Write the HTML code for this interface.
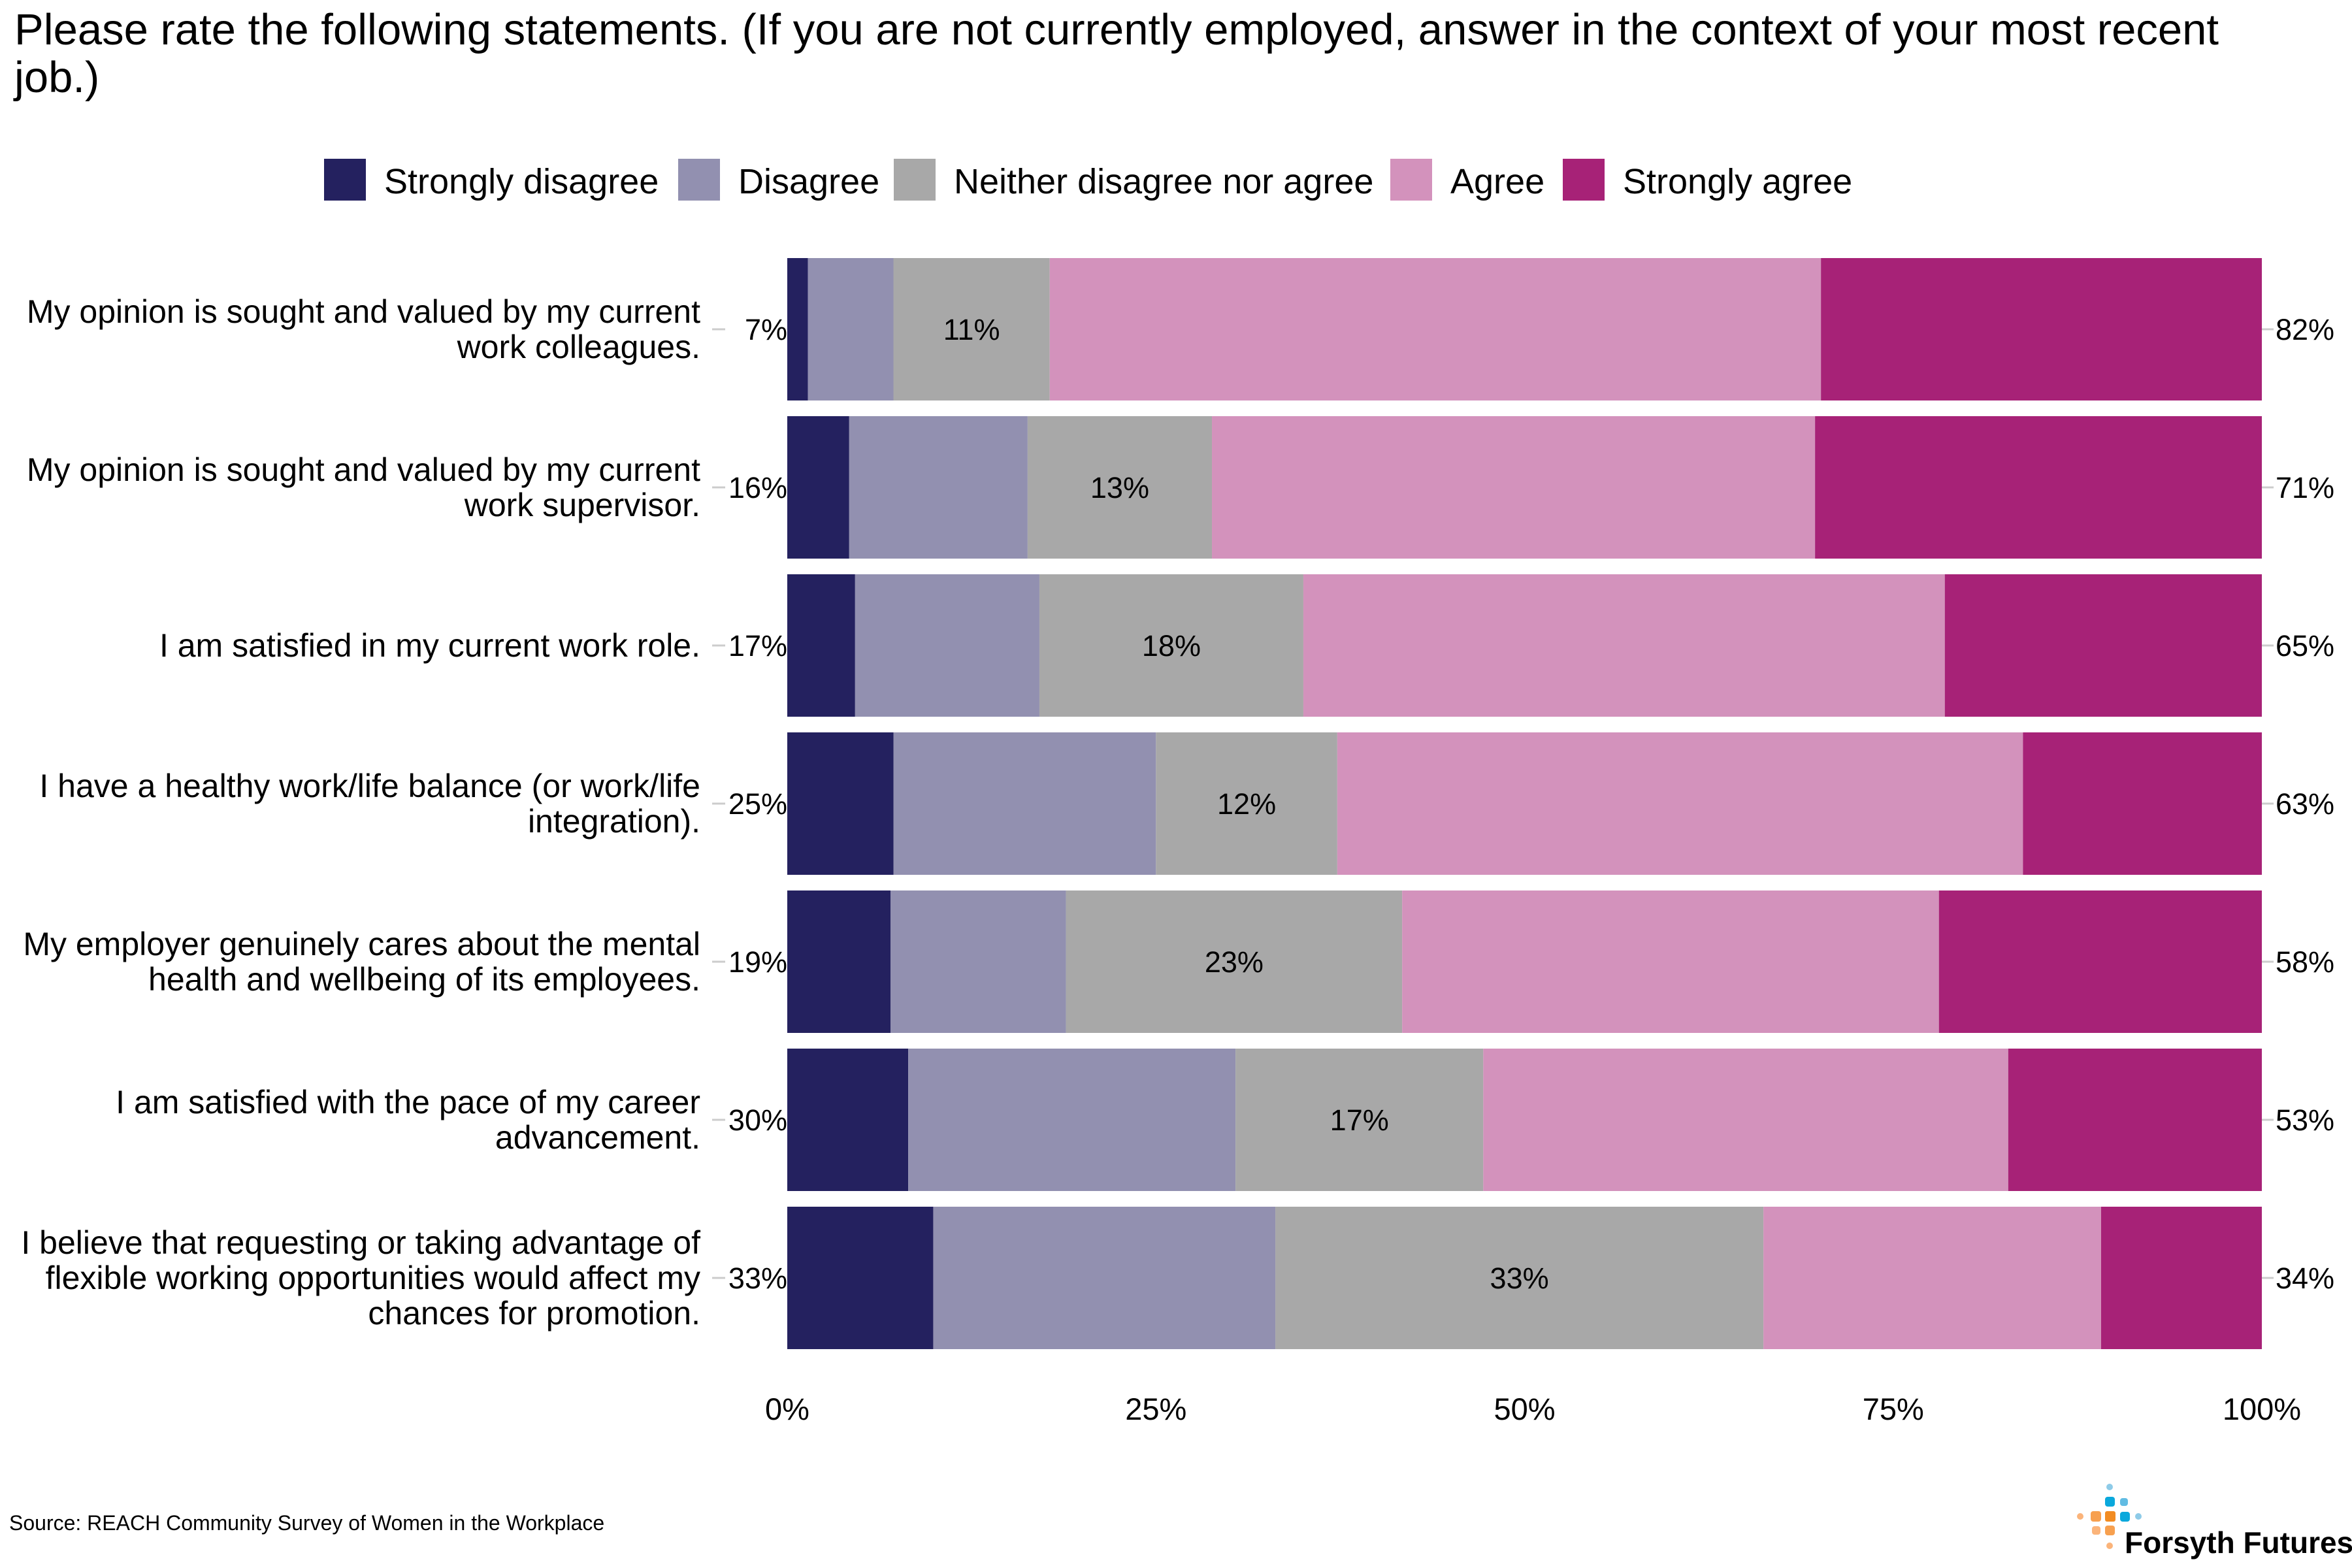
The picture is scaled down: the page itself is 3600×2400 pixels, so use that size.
<!DOCTYPE html>
<html><head><meta charset="utf-8"><style>
body{margin:0;background:#fff}
svg{display:block;font-family:"Liberation Sans",Arial,sans-serif}
</style></head><body>
<svg id="chart" width="3600" height="2400" viewBox="0 0 3600 2400">
<text x="22" y="68" font-size="67" fill="#000">Please rate the following statements. (If you are not currently employed, answer in the context of your most recent</text>
<text x="22" y="141" font-size="67" fill="#000">job.)</text>
<g id="legend"></g>
<g id="bars"></g>
<g id="axis"></g>
<text x="14" y="2342" font-size="32" fill="#000">Source: REACH Community Survey of Women in the Workplace</text>
<g>
<circle cx="3229" cy="2276" r="5" fill="#8ecbe8"/>
<rect x="3222" y="2291" width="15" height="15" rx="4" fill="#0aa8dc"/>
<rect x="3245" y="2293" width="12" height="12" rx="4" fill="#62bce3"/>
<circle cx="3184" cy="2321" r="5" fill="#fbb47a"/>
<rect x="3200" y="2313" width="16" height="16" rx="4" fill="#f7a04f"/>
<rect x="3222" y="2313" width="16" height="16" rx="3" fill="#f28c22"/>
<rect x="3245" y="2314" width="15" height="15" rx="4" fill="#0aa8dc"/>
<circle cx="3273" cy="2321" r="5" fill="#8ecbe8"/>
<rect x="3202" y="2336" width="13" height="13" rx="4" fill="#fbb47a"/>
<rect x="3222" y="2335" width="15" height="15" rx="4" fill="#f7a04f"/>
<circle cx="3229" cy="2366" r="5" fill="#fbb47a"/>
<text x="3252" y="2377" font-size="46" font-weight="bold" fill="#000">Forsyth Futures</text>
</g>
</svg>
<script>
const categories=["My opinion is sought and valued by my current|work colleagues.","My opinion is sought and valued by my current|work supervisor.","I am satisfied in my current work role.","I have a healthy work/life balance (or work/life|integration).","My employer genuinely cares about the mental|health and wellbeing of its employees.","I am satisfied with the pace of my career|advancement.","I believe that requesting or taking advantage of|flexible working opportunities would affect my|chances for promotion."];
const stronglyDisagree=[1.4,4.2,4.6,7.2,7.0,8.2,9.9];
const disagree=[5.8,12.1,12.5,17.8,11.9,22.2,23.2];
const neither=[10.6,12.5,17.9,12.3,22.8,16.8,33.1];
const agree=[52.3,40.9,43.5,46.5,36.4,35.6,22.9];
const stronglyAgree=[29.9,30.3,21.5,16.2,21.9,17.2,10.9];
const disagreeLabels=["7%","16%","17%","25%","19%","30%","33%"];
const neitherLabels=["11%","13%","18%","12%","23%","17%","33%"];
const agreeLabels=["82%","71%","65%","63%","58%","53%","34%"];
const ticks=[0,25,50,75,100];
const tickLabels=["0%","25%","50%","75%","100%"];
const seriesNames=["Strongly disagree","Disagree","Neither disagree nor agree","Agree","Strongly agree"];
const colors=["#24215f","#9290b0","#a8a8a8","#d392bc","#a72277"];
const NS="http://www.w3.org/2000/svg";
const X0=1205,X1=3462,Y0=395,PITCH=242,BH=218;
const xs=v=>X0+(X1-X0)*v/100;
const yRow=i=>Y0+i*PITCH;
function mk(tag,attrs,parent,txt){const e=document.createElementNS(NS,tag);for(const k in attrs)e.setAttribute(k,attrs[k]);if(txt!==undefined)e.textContent=txt;parent.appendChild(e);return e;}
const legend=document.getElementById('legend');
const lx=[496,1038,1368,2128,2392];
seriesNames.forEach((n,i)=>{
 const r=mk('rect',{x:lx[i],y:243,width:64,height:64,fill:colors[i]},legend);
 
 
 const t=mk('text',{x:lx[i]+92,y:296,'font-size':54},legend,n);
 
 
});
const bars=document.getElementById('bars');
const series=[stronglyDisagree,disagree,neither,agree,stronglyAgree];
const segNames=['strongly-disagree','disagree','neither','agree','strongly-agree'];
categories.forEach((c,i)=>{
 const y=yRow(i);let acc=0;
 series.forEach((s,j)=>{
  const r=mk('rect',{x:xs(acc),y:y,width:xs(acc+s[i])-xs(acc),height:BH,fill:colors[j]},bars);
  
  
  if(j===2){const t=mk('text',{x:(xs(acc)+xs(acc+s[i]))/2,y:y+BH/2+16,'font-size':45,'text-anchor':'middle'},bars,neitherLabels[i]);
   
   }
  acc+=s[i];
 });
 const cy=y+BH/2;
 mk('line',{x1:1090,x2:1110,y1:cy,y2:cy,stroke:'#ccc','stroke-width':3},bars);
 mk('line',{x1:3462,x2:3480,y1:cy,y2:cy,stroke:'#ccc','stroke-width':3},bars);
 const dl=mk('text',{x:1205,y:cy+16,'font-size':45,'text-anchor':'end'},bars,disagreeLabels[i]);
 
 
 const al=mk('text',{x:3483,y:cy+16,'font-size':45},bars,agreeLabels[i]);
 
 
 const lines=c.split('|');
 const lh=54,start=cy+17-(lines.length-1)*lh/2;
 lines.forEach((ln,k)=>{
  const t=mk('text',{x:1072,y:start+k*lh,'font-size':50,'text-anchor':'end'},bars,ln);
  
  
 });
});
const axis=document.getElementById('axis');
ticks.forEach((v,i)=>{
 const t=mk('text',{x:xs(v),y:2173,'font-size':47,'text-anchor':'middle'},axis,tickLabels[i]);
 
 
});
</script>
</body></html>
